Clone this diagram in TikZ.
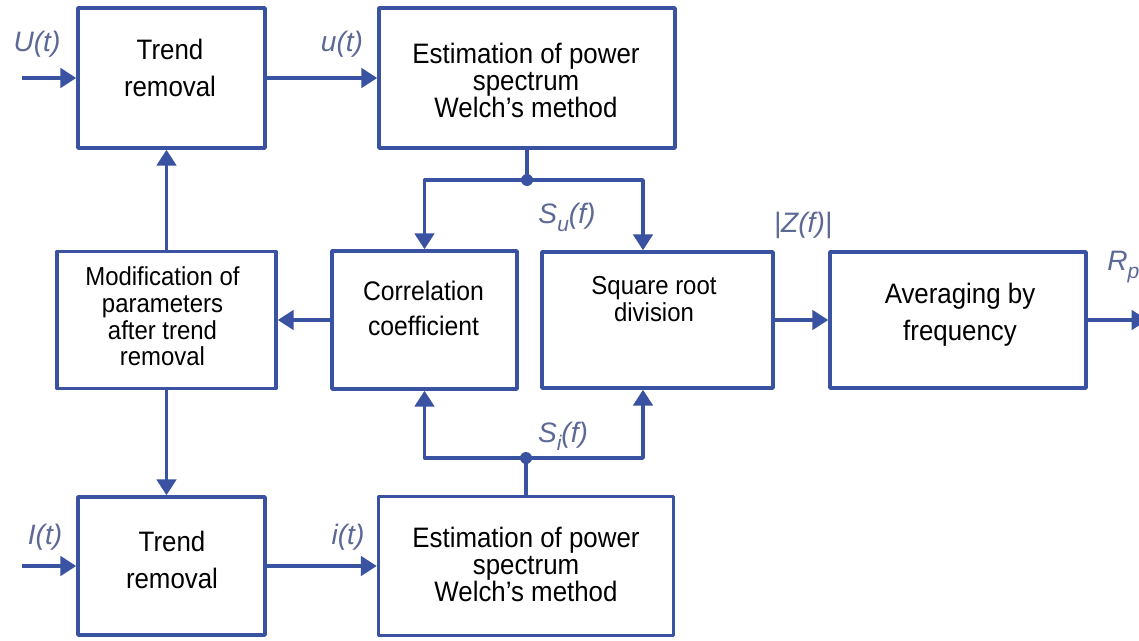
\documentclass[tikz,border=0pt]{standalone}
\usepackage{fontspec}
\setmainfont{Liberation Sans}[FakeStretch=0.92]
\newfontfamily\lblfont{Liberation Sans}
\usetikzlibrary{arrows.meta}
\definecolor{linecol}{RGB}{58,82,162}
\definecolor{lblcol}{RGB}{92,104,150}
\newcommand{\lowsub}[1]{\raisebox{-0.55ex}{\fontsize{12}{12}\selectfont #1}}
\begin{document}
\begin{tikzpicture}[>={Triangle[length=9pt, width=11pt]}, line join=round,
	box/.style={draw=linecol, line width=2pt, inner sep=0pt},
	txt/.style={align=center, inner sep=0pt},
	lbl/.style={text=lblcol, inner sep=0pt, font=\lblfont\itshape\fontsize{16}{18}\selectfont},
	wire/.style={draw=linecol, line width=2pt}]
	\useasboundingbox (0,0) rectangle (22.78,-12.82);
	% Upper branch
	\node[box, minimum width=3.74cm, minimum height=2.80cm] (tr1) at (3.43,-1.56) {};
	\node[txt, font=\fontsize{16}{21}\selectfont] (tr1t) at (3.40,-1.36) {Trend\\removal};
	\node[box, minimum width=5.92cm, minimum height=2.80cm] (e1) at (10.54,-1.56) {};
	\node[txt, font=\fontsize{16}{15.6}\selectfont] (e1t) at (10.52,-1.61) {Estimation of power\\spectrum\\Welch’s method};
	% Middle row
	\node[box, minimum width=4.38cm, minimum height=2.74cm] (m) at (3.33,-6.40) {};
	\node[txt, font=\fontsize{14.8}{15.2}\selectfont] (mt) at (3.25,-6.33) {Modification of\\parameters\\after trend\\removal};
	\node[box, minimum width=3.70cm, minimum height=2.76cm] (c) at (8.49,-6.40) {};
	\node[txt, font=\fontsize{15.3}{20}\selectfont] (ct) at (8.47,-6.17) {Correlation\\coefficient};
	\node[box, minimum width=4.62cm, minimum height=2.72cm] (s) at (13.15,-6.40) {};
	\node[txt, font=\fontsize{14.8}{15.4}\selectfont] (st) at (13.08,-5.99) {Square root\\division};
	\node[box, minimum width=5.12cm, minimum height=2.72cm] (a) at (19.16,-6.40) {};
	\node[txt, font=\fontsize{16}{21}\selectfont] (at) at (19.20,-6.30) {Averaging by\\frequency};
	% Lower branch
	\node[box, minimum width=3.74cm, minimum height=2.76cm] (tr2) at (3.43,-11.32) {};
	\node[txt, font=\fontsize{16}{21}\selectfont] (tr2t) at (3.44,-11.19) {Trend\\removal};
	\node[box, minimum width=5.90cm, minimum height=2.78cm] (e2) at (10.52,-11.32) {};
	\node[txt, font=\fontsize{16}{15.6}\selectfont] (e2t) at (10.52,-11.29) {Estimation of power\\spectrum\\Welch’s method};
	% Junctions and free ends
	\coordinate (in1) at (0.44,-1.56);
	\coordinate (in2) at (0.44,-11.32);
	\coordinate (out) at (22.95,-6.40);
	\coordinate (j1) at (10.54,-3.60);
	\coordinate (j2) at (10.52,-9.16);
	% Connectors
	\draw[wire, ->] (in1) -- (tr1.west);
	\draw[wire, ->] (tr1.east) -- (e1.west);
	\draw[wire] (e1.south) -- (j1);
	\draw[wire, ->] (j1) -| (c.north);
	\draw[wire, ->] (j1) -| ([xshift=-0.29cm]s.north);
	\draw[wire, ->] (c.west) -- (m.east);
	\draw[wire, ->] (m.north) -- (m.north |- tr1.south);
	\draw[wire, ->] (m.south) -- (m.south |- tr2.north);
	\draw[wire, ->] (s.east) -- (a.west);
	\draw[wire, ->] (a.east) -- (out);
	\draw[wire, ->] (in2) -- (tr2.west);
	\draw[wire, ->] (tr2.east) -- (e2.west);
	\draw[wire] (e2.north) -- (j2);
	\draw[wire, ->] (j2) -| (c.south);
	\draw[wire, ->] (j2) -| ([xshift=-0.29cm]s.south);
	\fill[linecol] (j1) circle (0.12);
	\fill[linecol] (j2) circle (0.12);
	% Signal labels
	\node[lbl] (lU) at (0.74,-0.88) {U(t)};
	\node[lbl] (lu) at (6.84,-0.88) {u(t)};
	\node[lbl] (lI) at (0.90,-10.74) {I(t)};
	\node[lbl] (li) at (6.96,-10.74) {i(t)};
	\node[lbl] (lSu) at (11.34,-4.34) {S\lowsub{u}(f)};
	\node[lbl] (lSi) at (11.26,-8.72) {S\lowsub{i}(f)};
	\node[lbl] (lZ) at (16.06,-4.50) {|Z(f)|};
	\node[lbl, anchor=west] (lR) at (22.14,-5.34) {R\lowsub{p}};
\end{tikzpicture}
\end{document}
